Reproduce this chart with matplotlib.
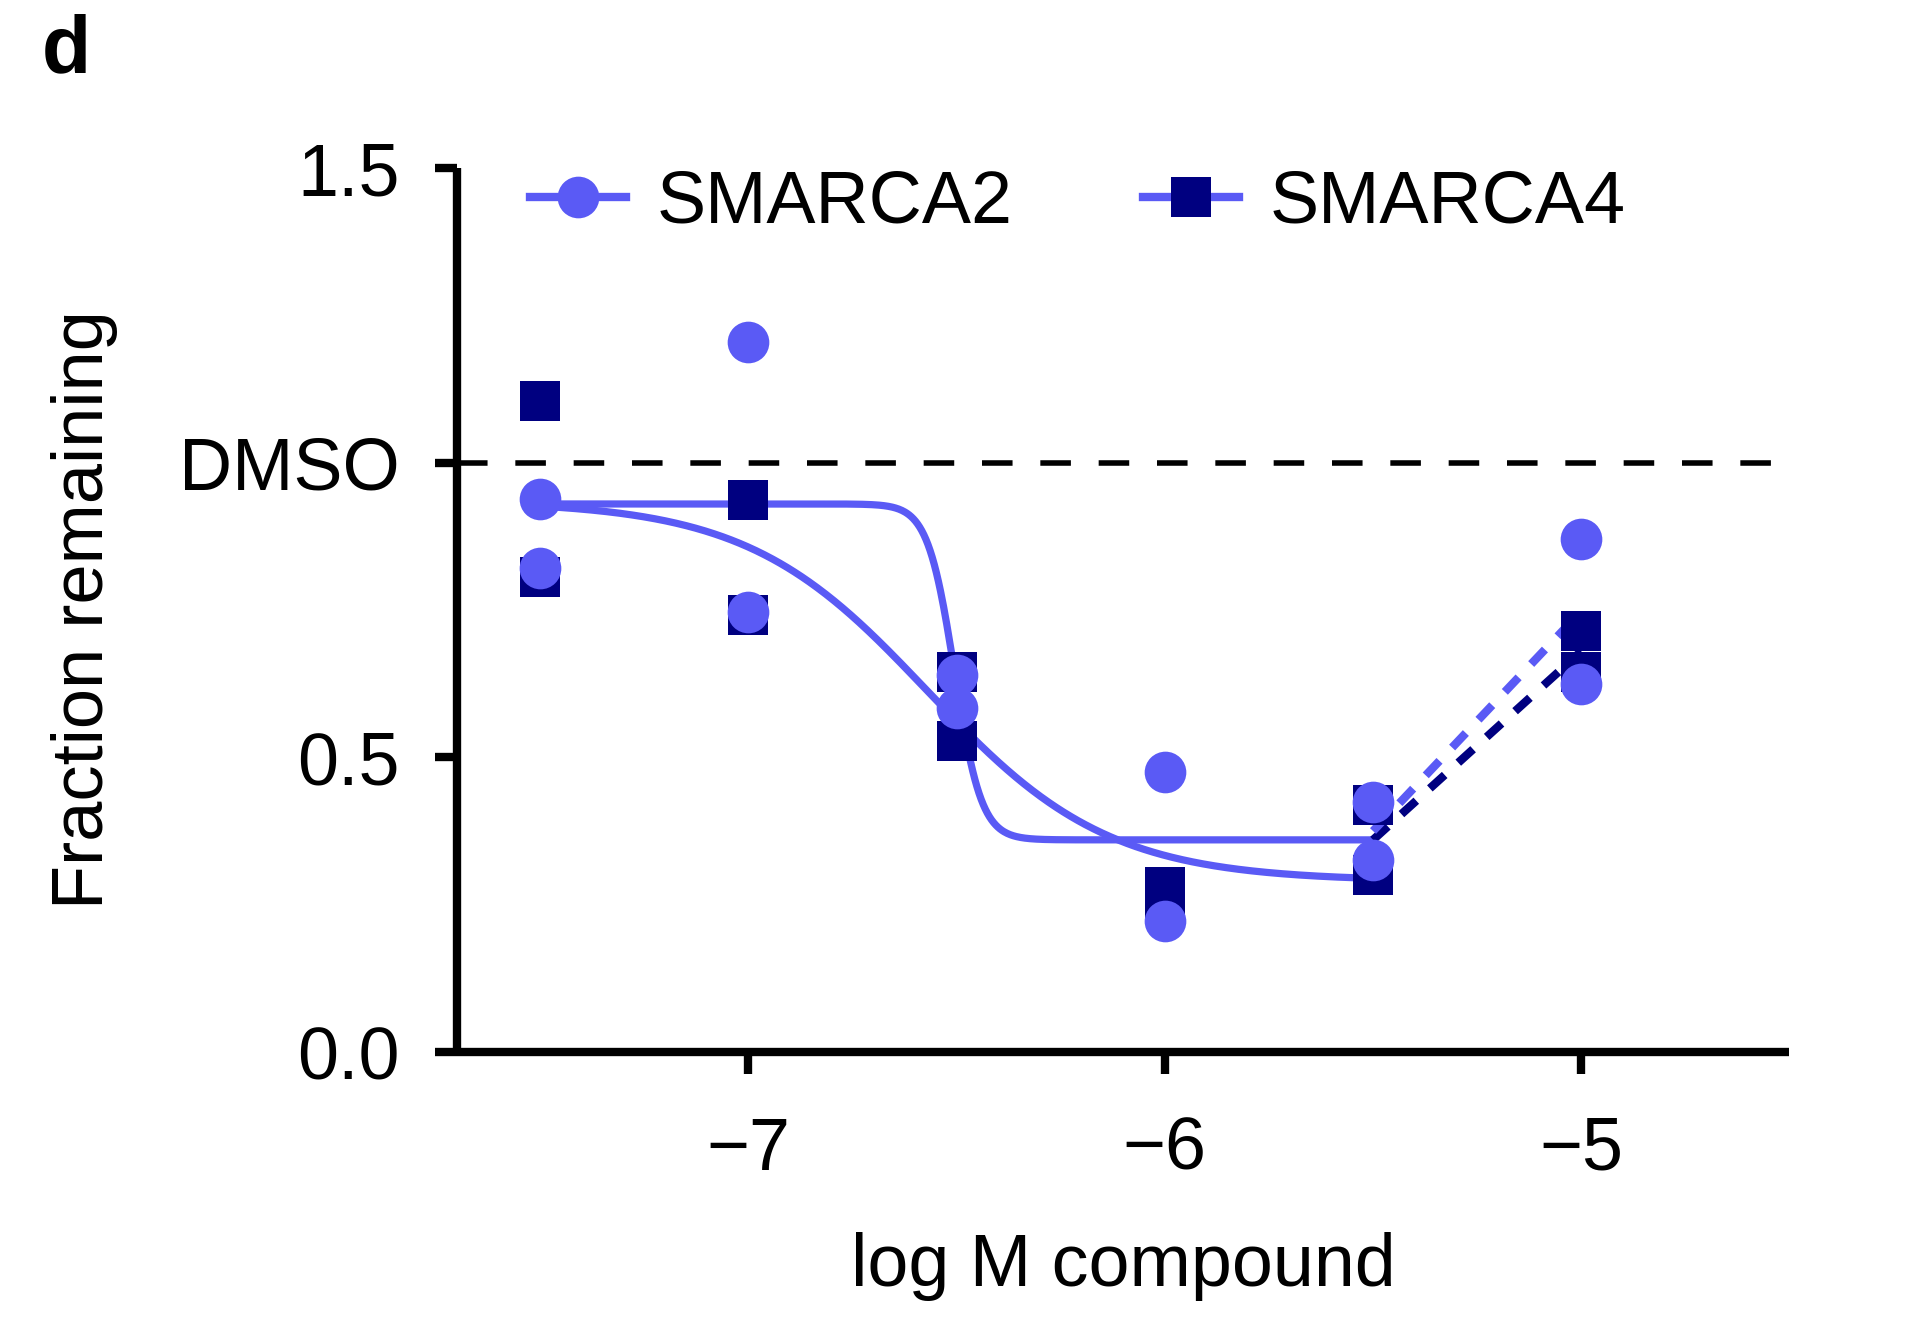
import numpy as np
import matplotlib
matplotlib.use("Agg")
import matplotlib.pyplot as plt
from matplotlib.lines import Line2D

plt.rcParams['font.family'] = ['Liberation Sans', 'DejaVu Sans']

light = '#5a5af5'
dark = '#000080'

# log M compound doses
doses = [-7.5, -7.0, -6.5, -6.0, -5.5, -5.0]
# replicate values
smarca2_a = [0.939, 1.205, 0.640, 0.476, 0.424, 0.871]
smarca2_b = [0.821, 0.746, 0.584, 0.222, 0.326, 0.625]
smarca4_a = [1.105, 0.937, 0.645, 0.280, 0.420, 0.715]
smarca4_b = [0.806, 0.742, 0.528, 0.250, 0.300, 0.645]

# 4-parameter fits (top, bottom, logIC50, hill) over -7.5 .. -5.5
fit_shallow = [0.935, 0.29, -6.57, 2.0]
fit_steep = [0.93, 0.36, -6.505, 13.5]

def four_pl(x, p):
    top, bottom, c, h = p
    return bottom + (top - bottom) / (1 + 10 ** ((x - c) * h))

fig = plt.figure(figsize=(19.2, 13.17), dpi=100)
ax = fig.add_axes([0.238, 0.2012, 0.694, 0.6712])

xs = np.linspace(-7.5, -5.5, 800)
ax.plot(xs, four_pl(xs, fit_shallow), color=light, lw=5.2, zorder=2)
ax.plot(xs, four_pl(xs, fit_steep), color=light, lw=5.2, zorder=2)

# dashed connections between means at the two highest doses
m2 = [(smarca2_a[i] + smarca2_b[i]) / 2 for i in (4, 5)]
m4 = [(smarca4_a[i] + smarca4_b[i]) / 2 for i in (4, 5)]
ax.plot(doses[4:], m4, color=dark, lw=6, ls=(0, (2.4, 2.2)), zorder=2)
ax.plot(doses[4:], m2, color=light, lw=6, ls=(0, (2.4, 2.2)), zorder=2)

ax.plot(doses, smarca4_a, 's', color=dark, ms=29, mew=0, zorder=3)
ax.plot(doses, smarca4_b, 's', color=dark, ms=29, mew=0, zorder=3)
ax.plot(doses, smarca2_a, 'o', color=light, ms=30, mew=0, zorder=4)
ax.plot(doses, smarca2_b, 'o', color=light, ms=30, mew=0, zorder=4)

ax.axhline(1.0, color='black', lw=4, ls=(0, (5.5, 5)), zorder=1)

ax.set_xlim(-7.7, -4.5)
ax.set_ylim(0, 1.5)
ax.set_xticks([-7, -6, -5])
ax.set_xticklabels(['\u22127', '\u22126', '\u22125'])
ax.set_yticks([0, 0.5, 1.0, 1.5])
ax.set_yticklabels(['0.0', '0.5', 'DMSO', '1.5'])
for s in ['top', 'right']:
    ax.spines[s].set_visible(False)
for s in ['left', 'bottom']:
    ax.spines[s].set_linewidth(6)
    ax.spines[s].set_capstyle('butt')
ax.tick_params(axis='both', direction='out', length=16, width=6, labelsize=53)
ax.tick_params(axis='x', pad=30)
ax.tick_params(axis='y', pad=25)

ax.set_xlabel('log M compound', fontsize=53, labelpad=34)
ax.set_ylabel('Fraction remaining', fontsize=52, labelpad=44)

handles = [
    Line2D([], [], color=light, lw=6, marker='o', ms=30, mfc=light, mec=light, mew=0),
    Line2D([], [], color=light, lw=6, marker='s', ms=29, mfc=dark, mec=dark, mew=0),
]
ax.legend(handles, ['SMARCA2', 'SMARCA4'], ncol=2, frameon=False, fontsize=53,
          loc='center left', bbox_to_anchor=(0.055, 0.96), borderpad=0,
          borderaxespad=0, handlelength=1.3, handletextpad=0.42, columnspacing=1.77)

fig.text(0.022, 0.99, 'd', fontsize=58, fontweight='bold', va='top', ha='left')

fig.savefig('out.png', dpi=100)
